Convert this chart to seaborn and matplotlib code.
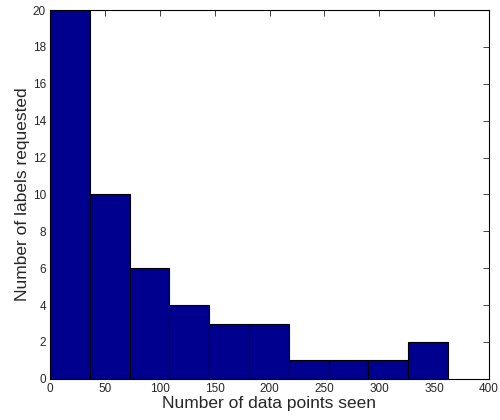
import numpy as np
import matplotlib
matplotlib.use("Agg")
import matplotlib.pyplot as plt
import seaborn as sns

# histogram bins (data points seen) and counts (labels requested)
bin_edges = [0, 36.3, 72.5, 108.8, 145.0, 181.3, 217.6, 253.8, 290.1, 326.3, 362.6]
counts = [20, 10, 6, 4, 3, 3, 1, 1, 1, 2]
centers = [(a + b) / 2 for a, b in zip(bin_edges[:-1], bin_edges[1:])]

sns.set_style("white")
plt.rcParams['font.family'] = ['Liberation Sans', 'DejaVu Sans']

fig = plt.figure(figsize=(5, 4.2), dpi=100)
ax = fig.add_axes([0.1, 0.098, 0.878, 0.878])

sns.histplot(x=centers, weights=counts, bins=bin_edges, ax=ax,
             color=(0, 0, 0.5625), edgecolor='black', linewidth=0.8, alpha=1)

ax.set_xlim(0, 400)
ax.set_ylim(0, 20)
ax.set_xticks(range(0, 401, 50))
ax.set_yticks(range(0, 21, 2))
ax.tick_params(direction='in', length=4, labelsize=8.5, top=True, right=True,
               bottom=True, left=True, pad=3, width=0.6)
for s in ax.spines.values():
    s.set_linewidth(0.8)
    s.set_color('black')
ax.set_xlabel("Number of data points seen", fontsize=12.5, labelpad=1)
ax.set_ylabel("Number of labels requested", fontsize=12.5, labelpad=2)

fig.savefig("out.png", dpi=100)
